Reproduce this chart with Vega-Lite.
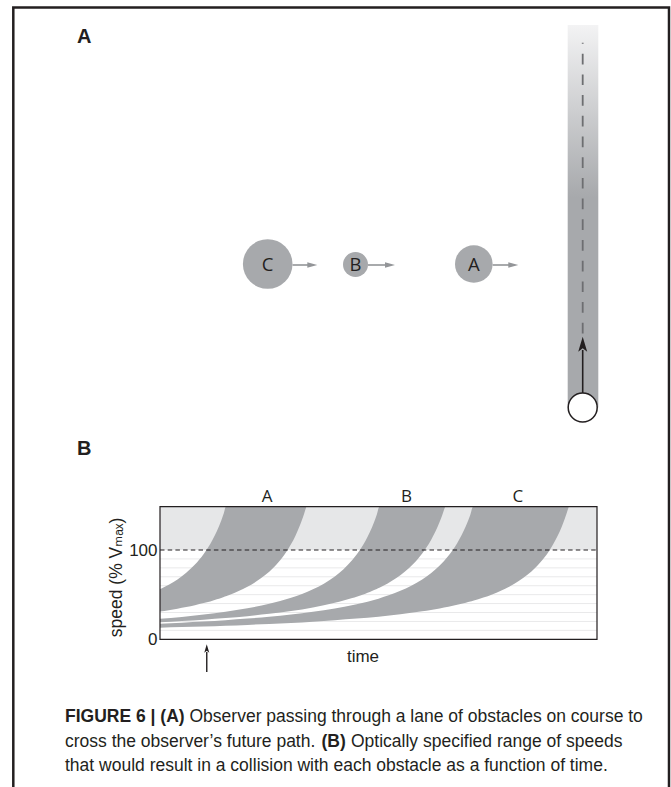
{
"$schema": "https://vega.github.io/schema/vega-lite/v6.json",
"width": 671, "height": 787, "autosize": "none", "padding": 0, "background": "#ffffff",
"config": {"view": {"stroke": null}, "font": "Liberation Sans", "text": {"color": "#231f20"}},
"datasets": {
  "frame": [{"left": 13.3, "right": 669, "top": 7.5, "bottom": 800}],
  "observer": [{"cx": 582.7, "cy": 407.5, "radius": 14.5, "lane_left": 567.7, "lane_right": 598.3, "lane_top": 25, "dash_top": 42.7, "dash_bottom": 336, "arrow_tail": 393, "arrow_base": 350, "arrow_head": 344.2}],
  "obstacles": [
    {"obstacle": "C", "cx": 267.7, "cy": 264, "radius": 24.8, "arrow_from": 292.5, "arrow_to": 308.5, "head": 312.3, "arrow_y": 265},
    {"obstacle": "B", "cx": 355.5, "cy": 264.5, "radius": 12.5, "arrow_from": 368, "arrow_to": 386, "head": 390, "arrow_y": 265},
    {"obstacle": "A", "cx": 473.8, "cy": 264, "radius": 18.8, "arrow_from": 492.6, "arrow_to": 509.3, "head": 513.3, "arrow_y": 265}
  ],
  "panel_labels": [{"label": "A", "fx": 77, "fy": 42.7}, {"label": "B", "fx": 77, "fy": 455}],
  "caption": [
    {"text": "FIGURE 6 | (A)", "weight": "bold", "fx": 65, "fy": 722},
    {"text": "Observer passing through a lane of obstacles on course to", "weight": "normal", "fx": 189.5, "fy": 722},
    {"text": "cross the observer’s future path.", "weight": "normal", "fx": 65, "fy": 746.5},
    {"text": "(B)", "weight": "bold", "fx": 321.5, "fy": 746.5},
    {"text": "Optically specified range of speeds", "weight": "normal", "fx": 351, "fy": 746.5},
    {"text": "that would result in a collision with each obstacle as a function of time.", "weight": "normal", "fx": 65, "fy": 771}
  ],
  "upper_region": [{"time": 0, "time_end": 100, "speed": 100, "speed_end": 148.5, "speed_base": 0}],
  "grid": [{"speed": 10, "time": 0, "time_end": 100}, {"speed": 20, "time": 0, "time_end": 100}, {"speed": 30, "time": 0, "time_end": 100}, {"speed": 40, "time": 0, "time_end": 100}, {"speed": 50, "time": 0, "time_end": 100}, {"speed": 60, "time": 0, "time_end": 100}, {"speed": 70, "time": 0, "time_end": 100}, {"speed": 80, "time": 0, "time_end": 100}, {"speed": 90, "time": 0, "time_end": 100}],
  "bands": [
    {"obstacle": "A", "time": 0, "speed_low": 31.0, "speed_high": 56.0},
    {"obstacle": "A", "time": 2, "speed_low": 32.54, "speed_high": 61.05},
    {"obstacle": "A", "time": 4, "speed_low": 34.24, "speed_high": 67.09},
    {"obstacle": "A", "time": 6, "speed_low": 36.12, "speed_high": 74.46},
    {"obstacle": "A", "time": 8, "speed_low": 38.23, "speed_high": 83.65},
    {"obstacle": "A", "time": 10, "speed_low": 40.6, "speed_high": 95.44},
    {"obstacle": "A", "time": 11, "speed_low": 41.89, "speed_high": 102.67},
    {"obstacle": "A", "time": 12, "speed_low": 43.28, "speed_high": 111.08},
    {"obstacle": "A", "time": 13, "speed_low": 44.75, "speed_high": 121.0},
    {"obstacle": "A", "time": 14, "speed_low": 46.34, "speed_high": 132.86},
    {"obstacle": "A", "time": 14.6, "speed_low": 47.34, "speed_high": 141.2},
    {"obstacle": "A", "time": 15.07, "speed_low": 48.16, "speed_high": 148.5},
    {"obstacle": "A", "time": 16, "speed_low": 49.86, "speed_high": 148.5},
    {"obstacle": "A", "time": 18, "speed_low": 53.96, "speed_high": 148.5},
    {"obstacle": "A", "time": 20, "speed_low": 58.8, "speed_high": 148.5},
    {"obstacle": "A", "time": 22, "speed_low": 64.6, "speed_high": 148.5},
    {"obstacle": "A", "time": 24, "speed_low": 71.66, "speed_high": 148.5},
    {"obstacle": "A", "time": 26, "speed_low": 80.45, "speed_high": 148.5},
    {"obstacle": "A", "time": 27, "speed_low": 85.71, "speed_high": 148.5},
    {"obstacle": "A", "time": 28, "speed_low": 91.7, "speed_high": 148.5},
    {"obstacle": "A", "time": 29, "speed_low": 98.59, "speed_high": 148.5},
    {"obstacle": "A", "time": 30, "speed_low": 106.61, "speed_high": 148.5},
    {"obstacle": "A", "time": 31, "speed_low": 116.04, "speed_high": 148.5},
    {"obstacle": "A", "time": 32, "speed_low": 127.31, "speed_high": 148.5},
    {"obstacle": "A", "time": 32.5, "speed_low": 133.8, "speed_high": 148.5},
    {"obstacle": "A", "time": 33, "speed_low": 141.0, "speed_high": 148.5},
    {"obstacle": "A", "time": 33.47, "speed_low": 148.5, "speed_high": 148.5},
    {"obstacle": "B", "time": 0, "speed_low": 19.0, "speed_high": 23.0},
    {"obstacle": "B", "time": 5, "speed_low": 20.36, "speed_high": 25.11},
    {"obstacle": "B", "time": 10, "speed_low": 21.93, "speed_high": 27.66},
    {"obstacle": "B", "time": 15, "speed_low": 23.77, "speed_high": 30.77},
    {"obstacle": "B", "time": 20, "speed_low": 25.93, "speed_high": 34.68},
    {"obstacle": "B", "time": 25, "speed_low": 28.54, "speed_high": 39.72},
    {"obstacle": "B", "time": 30, "speed_low": 31.72, "speed_high": 46.47},
    {"obstacle": "B", "time": 35, "speed_low": 35.71, "speed_high": 55.99},
    {"obstacle": "B", "time": 40, "speed_low": 40.84, "speed_high": 70.42},
    {"obstacle": "B", "time": 42, "speed_low": 43.33, "speed_high": 78.52},
    {"obstacle": "B", "time": 44, "speed_low": 46.14, "speed_high": 88.71},
    {"obstacle": "B", "time": 45, "speed_low": 47.69, "speed_high": 94.88},
    {"obstacle": "B", "time": 46, "speed_low": 49.35, "speed_high": 101.96},
    {"obstacle": "B", "time": 47, "speed_low": 51.12, "speed_high": 110.18},
    {"obstacle": "B", "time": 48, "speed_low": 53.03, "speed_high": 119.84},
    {"obstacle": "B", "time": 49, "speed_low": 55.09, "speed_high": 131.37},
    {"obstacle": "B", "time": 49.6, "speed_low": 56.4, "speed_high": 139.4},
    {"obstacle": "B", "time": 50.2, "speed_low": 57.77, "speed_high": 148.5},
    {"obstacle": "B", "time": 52, "speed_low": 62.33, "speed_high": 148.5},
    {"obstacle": "B", "time": 54, "speed_low": 68.33, "speed_high": 148.5},
    {"obstacle": "B", "time": 56, "speed_low": 75.6, "speed_high": 148.5},
    {"obstacle": "B", "time": 58, "speed_low": 84.6, "speed_high": 148.5},
    {"obstacle": "B", "time": 59, "speed_low": 89.95, "speed_high": 148.5},
    {"obstacle": "B", "time": 60, "speed_low": 96.03, "speed_high": 148.5},
    {"obstacle": "B", "time": 61, "speed_low": 102.99, "speed_high": 148.5},
    {"obstacle": "B", "time": 62, "speed_low": 111.03, "speed_high": 148.5},
    {"obstacle": "B", "time": 63, "speed_low": 120.44, "speed_high": 148.5},
    {"obstacle": "B", "time": 64, "speed_low": 131.59, "speed_high": 148.5},
    {"obstacle": "B", "time": 64.6, "speed_low": 139.3, "speed_high": 148.5},
    {"obstacle": "B", "time": 65.23, "speed_low": 148.5, "speed_high": 148.5},
    {"obstacle": "C", "time": 0, "speed_low": 13.0, "speed_high": 17.5},
    {"obstacle": "C", "time": 5, "speed_low": 13.67, "speed_high": 18.65},
    {"obstacle": "C", "time": 10, "speed_low": 14.41, "speed_high": 19.96},
    {"obstacle": "C", "time": 15, "speed_low": 15.23, "speed_high": 21.47},
    {"obstacle": "C", "time": 20, "speed_low": 16.15, "speed_high": 23.22},
    {"obstacle": "C", "time": 25, "speed_low": 17.19, "speed_high": 25.28},
    {"obstacle": "C", "time": 30, "speed_low": 18.38, "speed_high": 27.75},
    {"obstacle": "C", "time": 35, "speed_low": 19.74, "speed_high": 30.76},
    {"obstacle": "C", "time": 40, "speed_low": 21.32, "speed_high": 34.49},
    {"obstacle": "C", "time": 45, "speed_low": 23.17, "speed_high": 39.25},
    {"obstacle": "C", "time": 50, "speed_low": 25.38, "speed_high": 45.54},
    {"obstacle": "C", "time": 55, "speed_low": 28.05, "speed_high": 54.24},
    {"obstacle": "C", "time": 60, "speed_low": 31.35, "speed_high": 67.03},
    {"obstacle": "C", "time": 62, "speed_low": 32.9, "speed_high": 74.01},
    {"obstacle": "C", "time": 64, "speed_low": 34.61, "speed_high": 82.62},
    {"obstacle": "C", "time": 66, "speed_low": 36.51, "speed_high": 93.49},
    {"obstacle": "C", "time": 67, "speed_low": 37.54, "speed_high": 100.07},
    {"obstacle": "C", "time": 68, "speed_low": 38.62, "speed_high": 107.65},
    {"obstacle": "C", "time": 69, "speed_low": 39.78, "speed_high": 116.48},
    {"obstacle": "C", "time": 70, "speed_low": 41.0, "speed_high": 126.88},
    {"obstacle": "C", "time": 71, "speed_low": 42.3, "speed_high": 139.31},
    {"obstacle": "C", "time": 71.63, "speed_low": 43.17, "speed_high": 148.5},
    {"obstacle": "C", "time": 74, "speed_low": 46.75, "speed_high": 148.5},
    {"obstacle": "C", "time": 76, "speed_low": 50.28, "speed_high": 148.5},
    {"obstacle": "C", "time": 78, "speed_low": 54.39, "speed_high": 148.5},
    {"obstacle": "C", "time": 80, "speed_low": 59.22, "speed_high": 148.5},
    {"obstacle": "C", "time": 82, "speed_low": 65.0, "speed_high": 148.5},
    {"obstacle": "C", "time": 84, "speed_low": 72.03, "speed_high": 148.5},
    {"obstacle": "C", "time": 86, "speed_low": 80.76, "speed_high": 148.5},
    {"obstacle": "C", "time": 88, "speed_low": 91.9, "speed_high": 148.5},
    {"obstacle": "C", "time": 89, "speed_low": 98.7, "speed_high": 148.5},
    {"obstacle": "C", "time": 90, "speed_low": 106.6, "speed_high": 148.5},
    {"obstacle": "C", "time": 91, "speed_low": 115.87, "speed_high": 148.5},
    {"obstacle": "C", "time": 92, "speed_low": 126.9, "speed_high": 148.5},
    {"obstacle": "C", "time": 93, "speed_low": 140.26, "speed_high": 148.5},
    {"obstacle": "C", "time": 93.53, "speed_low": 148.5, "speed_high": 148.5}
  ],
  "band_labels": [{"obstacle": "A", "time": 24.5, "speed": 148.5}, {"obstacle": "B", "time": 56.4, "speed": 148.5}, {"obstacle": "C", "time": 81.9, "speed": 148.5}],
  "now": [{"time": 10.7, "speed_from": -14.2, "speed_to": -36.6, "speed_head": -10.3}]
},
"layer": [
  {
    "layer": [
      {"data": {"name": "frame"}, "mark": {"type": "rect", "filled": false, "color": "#231f20", "strokeWidth": 2.5},
       "encoding": {"x": {"field": "left", "type": "quantitative", "scale": {"domain": [0, 671], "range": [0, 671], "nice": false, "zero": false}, "axis": null}, "x2": {"field": "right"},
                    "y": {"field": "top", "type": "quantitative", "scale": {"domain": [0, 787], "range": [0, 787], "nice": false, "zero": false}, "axis": null}, "y2": {"field": "bottom"}}},
      {"data": {"name": "observer"}, "mark": {"type": "rect", "color": {"gradient": "linear", "x1": 0, "y1": 0, "x2": 0, "y2": 1, "stops": [{"offset": 0, "color": "#f3f3f4"}, {"offset": 0.45, "color": "#a7a9ac"}, {"offset": 1, "color": "#a7a9ac"}]}},
       "encoding": {"x": {"field": "lane_left", "type": "quantitative", "scale": {"domain": [0, 671], "range": [0, 671], "nice": false, "zero": false}, "axis": null}, "x2": {"field": "lane_right"},
                    "y": {"field": "lane_top", "type": "quantitative", "scale": {"domain": [0, 787], "range": [0, 787], "nice": false, "zero": false}, "axis": null}, "y2": {"field": "cy"}}},
      {"data": {"name": "observer"}, "mark": {"type": "rule", "color": "#6d6e71", "strokeWidth": 1.8, "strokeDash": [10.7, 10], "strokeDashOffset": 9.7},
       "encoding": {"x": {"field": "cx", "type": "quantitative", "scale": {"domain": [0, 671], "range": [0, 671], "nice": false, "zero": false}, "axis": null},
                    "y": {"field": "dash_top", "type": "quantitative", "scale": {"domain": [0, 787], "range": [0, 787], "nice": false, "zero": false}, "axis": null}, "y2": {"field": "dash_bottom"}}},
      {"data": {"name": "observer"}, "mark": {"type": "rule", "color": "#231f20", "strokeWidth": 1.6},
       "encoding": {"x": {"field": "cx", "type": "quantitative", "scale": {"domain": [0, 671], "range": [0, 671], "nice": false, "zero": false}, "axis": null},
                    "y": {"field": "arrow_base", "type": "quantitative", "scale": {"domain": [0, 787], "range": [0, 787], "nice": false, "zero": false}, "axis": null}, "y2": {"field": "arrow_tail"}}},
      {"data": {"name": "observer"}, "mark": {"type": "point", "shape": "M0,-1L0.6,1L0,0.55L-0.6,1Z", "filled": true, "color": "#231f20", "size": 225, "opacity": 1, "strokeWidth": 0},
       "encoding": {"x": {"field": "cx", "type": "quantitative", "scale": {"domain": [0, 671], "range": [0, 671], "nice": false, "zero": false}, "axis": null},
                    "y": {"field": "arrow_head", "type": "quantitative", "scale": {"domain": [0, 787], "range": [0, 787], "nice": false, "zero": false}, "axis": null}}},
      {"data": {"name": "observer"}, "mark": {"type": "point", "shape": "circle", "filled": true, "fill": "#ffffff", "stroke": "#231f20", "strokeWidth": 1.5, "opacity": 1},
       "encoding": {"x": {"field": "cx", "type": "quantitative", "scale": {"domain": [0, 671], "range": [0, 671], "nice": false, "zero": false}, "axis": null},
                    "y": {"field": "cy", "type": "quantitative", "scale": {"domain": [0, 787], "range": [0, 787], "nice": false, "zero": false}, "axis": null},
                    "size": {"field": "radius", "type": "quantitative", "scale": {"type": "pow", "exponent": 2, "domain": [0, 25], "range": [0, 2500]}, "legend": null}}},
      {"data": {"name": "obstacles"}, "mark": {"type": "point", "shape": "circle", "filled": true, "color": "#a7a9ac", "strokeWidth": 0, "opacity": 1},
       "encoding": {"x": {"field": "cx", "type": "quantitative", "scale": {"domain": [0, 671], "range": [0, 671], "nice": false, "zero": false}, "axis": null},
                    "y": {"field": "cy", "type": "quantitative", "scale": {"domain": [0, 787], "range": [0, 787], "nice": false, "zero": false}, "axis": null},
                    "size": {"field": "radius", "type": "quantitative", "scale": {"type": "pow", "exponent": 2, "domain": [0, 25], "range": [0, 2500]}, "legend": null}}},
      {"data": {"name": "obstacles"}, "mark": {"type": "rule", "color": "#939598", "strokeWidth": 1.6},
       "encoding": {"x": {"field": "arrow_from", "type": "quantitative", "scale": {"domain": [0, 671], "range": [0, 671], "nice": false, "zero": false}, "axis": null}, "x2": {"field": "arrow_to"},
                    "y": {"field": "arrow_y", "type": "quantitative", "scale": {"domain": [0, 787], "range": [0, 787], "nice": false, "zero": false}, "axis": null}}},
      {"data": {"name": "obstacles"}, "mark": {"type": "point", "shape": "M-1,-0.55L1,0L-1,0.55Z", "filled": true, "color": "#939598", "size": 100, "opacity": 1, "strokeWidth": 0},
       "encoding": {"x": {"field": "head", "type": "quantitative", "scale": {"domain": [0, 671], "range": [0, 671], "nice": false, "zero": false}, "axis": null},
                    "y": {"field": "arrow_y", "type": "quantitative", "scale": {"domain": [0, 787], "range": [0, 787], "nice": false, "zero": false}, "axis": null}}},
      {"data": {"name": "obstacles"}, "mark": {"type": "text", "font": "Open Sans", "fontSize": 18.5, "align": "center", "baseline": "alphabetic", "dy": 6.7, "color": "#231f20"},
       "encoding": {"x": {"field": "cx", "type": "quantitative", "scale": {"domain": [0, 671], "range": [0, 671], "nice": false, "zero": false}, "axis": null},
                    "y": {"field": "cy", "type": "quantitative", "scale": {"domain": [0, 787], "range": [0, 787], "nice": false, "zero": false}, "axis": null},
                    "text": {"field": "obstacle"}}},
      {"data": {"name": "panel_labels"}, "mark": {"type": "text", "font": "Liberation Sans", "fontSize": 20, "fontWeight": "bold", "align": "left", "baseline": "alphabetic", "color": "#231f20"},
       "encoding": {"x": {"field": "fx", "type": "quantitative", "scale": {"domain": [0, 671], "range": [0, 671], "nice": false, "zero": false}, "axis": null},
                    "y": {"field": "fy", "type": "quantitative", "scale": {"domain": [0, 787], "range": [0, 787], "nice": false, "zero": false}, "axis": null},
                    "text": {"field": "label"}}},
      {"data": {"name": "caption"}, "transform": [{"filter": "datum.weight === 'bold'"}], "mark": {"type": "text", "font": "Liberation Sans", "fontSize": 17.5, "fontWeight": "bold", "align": "left", "baseline": "alphabetic", "color": "#231f20"},
       "encoding": {"x": {"field": "fx", "type": "quantitative", "scale": {"domain": [0, 671], "range": [0, 671], "nice": false, "zero": false}, "axis": null},
                    "y": {"field": "fy", "type": "quantitative", "scale": {"domain": [0, 787], "range": [0, 787], "nice": false, "zero": false}, "axis": null},
                    "text": {"field": "text"}}},
      {"data": {"name": "caption"}, "transform": [{"filter": "datum.weight === 'normal'"}], "mark": {"type": "text", "font": "Liberation Sans", "fontSize": 17.5, "align": "left", "baseline": "alphabetic", "color": "#231f20"},
       "encoding": {"x": {"field": "fx", "type": "quantitative", "scale": {"domain": [0, 671], "range": [0, 671], "nice": false, "zero": false}, "axis": null},
                    "y": {"field": "fy", "type": "quantitative", "scale": {"domain": [0, 787], "range": [0, 787], "nice": false, "zero": false}, "axis": null},
                    "text": {"field": "text"}}}
    ]
  },
  {
    "layer": [
      {"data": {"name": "upper_region"}, "mark": {"type": "rect", "color": "#e6e7e8"},
       "encoding": {
         "x": {"field": "time", "type": "quantitative", "scale": {"domain": [0, 100], "range": [160, 597], "nice": false, "zero": false},
               "axis": {"title": "time", "offset": -147.7, "labels": false, "ticks": false, "domain": false, "grid": false, "titleFont": "Liberation Sans", "titleFontSize": 17, "titleFontWeight": "normal", "titleColor": "#231f20", "titleX": 362.5, "titleY": 22.4, "titleBaseline": "alphabetic", "titleAlign": "center"}},
         "x2": {"field": "time_end"},
         "y": {"field": "speed", "type": "quantitative", "scale": {"domain": [0, 148.5], "range": [639.3, 506.7], "nice": false, "zero": false},
               "axis": {"values": [0, 100], "title": "speed (% Vₘₐₓ)", "offset": -160, "domain": false, "ticks": false, "tickSize": 0, "grid": false, "labelFont": "Liberation Sans", "labelFontSize": 17, "labelColor": "#231f20", "labelPadding": 3, "titleFont": "Liberation Sans, DejaVu Sans", "titleFontSize": 17.5, "titleFontWeight": "normal", "titleColor": "#231f20", "titleAngle": 270, "titleX": -38.5, "titleY": 577, "titleBaseline": "alphabetic", "titleAlign": "center"}},
         "y2": {"field": "speed_end"}}},
      {"data": {"name": "grid"}, "mark": {"type": "rule", "color": "#e9e9ea", "strokeWidth": 1},
       "encoding": {"x": {"field": "time", "type": "quantitative"}, "x2": {"field": "time_end"}, "y": {"field": "speed", "type": "quantitative"}}},
      {"data": {"name": "bands"}, "mark": {"type": "area", "color": "#a7a9ac", "interpolate": "monotone", "opacity": 1},
       "encoding": {"x": {"field": "time", "type": "quantitative"}, "y": {"field": "speed_low", "type": "quantitative"}, "y2": {"field": "speed_high"}, "detail": {"field": "obstacle", "type": "nominal"}}},
      {"data": {"name": "upper_region"}, "mark": {"type": "rule", "color": "#231f20", "strokeWidth": 1.1, "strokeDash": [4.5, 3.2]},
       "encoding": {"x": {"field": "time", "type": "quantitative"}, "x2": {"field": "time_end"}, "y": {"field": "speed", "type": "quantitative"}}},
      {"data": {"name": "upper_region"}, "mark": {"type": "rect", "filled": false, "color": "#231f20", "strokeWidth": 1.2},
       "encoding": {"x": {"field": "time", "type": "quantitative"}, "x2": {"field": "time_end"}, "y": {"field": "speed_base", "type": "quantitative"}, "y2": {"field": "speed_end"}}},
      {"data": {"name": "band_labels"}, "mark": {"type": "text", "font": "Open Sans", "fontSize": 17, "align": "center", "baseline": "alphabetic", "dy": -5, "color": "#231f20"},
       "encoding": {"x": {"field": "time", "type": "quantitative"}, "y": {"field": "speed", "type": "quantitative"}, "text": {"field": "obstacle", "type": "nominal"}}},
      {"data": {"name": "now"}, "mark": {"type": "rule", "color": "#231f20", "strokeWidth": 1.4},
       "encoding": {"x": {"field": "time", "type": "quantitative"}, "y": {"field": "speed_from", "type": "quantitative"}, "y2": {"field": "speed_to"}}},
      {"data": {"name": "now"}, "mark": {"type": "point", "shape": "M0,-1L0.6,1L0,0.55L-0.6,1Z", "filled": true, "color": "#231f20", "size": 70, "opacity": 1, "strokeWidth": 0},
       "encoding": {"x": {"field": "time", "type": "quantitative"}, "y": {"field": "speed_head", "type": "quantitative"}}}
    ]
  }
],
"resolve": {"scale": {"x": "independent", "y": "independent"}}
}
